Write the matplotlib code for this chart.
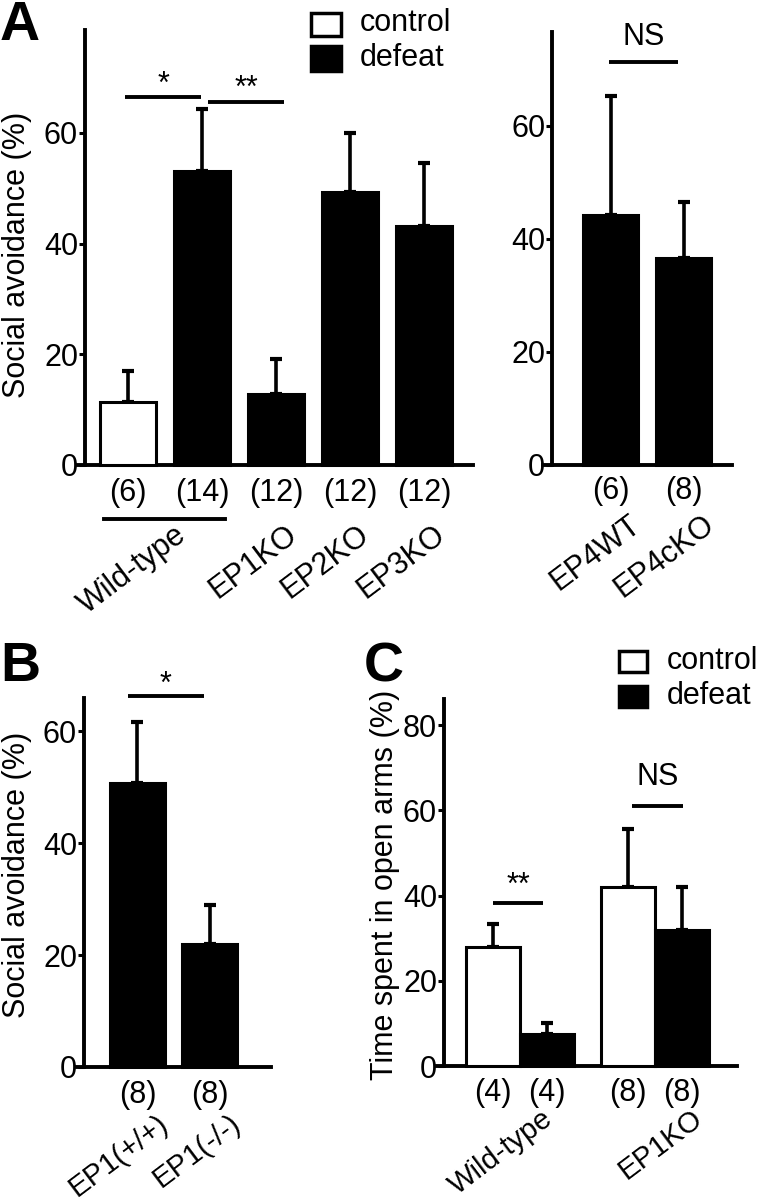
import numpy as np
import matplotlib
matplotlib.use("Agg")
import matplotlib.pyplot as plt
from matplotlib.patches import Rectangle

plt.rcParams['font.family'] = ['Liberation Sans', 'DejaVu Sans']

# ---- data ----
a_groups = ["Wild-type", "EP1KO", "EP2KO", "EP3KO"]
a_means = [11.3, 53.2, 12.8, 49.4, 43.2]
a_sem = [5.6, 11.2, 6.4, 10.5, 11.4]
a_fill = ["white", "black", "black", "black", "black"]
a_n = ["(6)", "(14)", "(12)", "(12)", "(12)"]

a4_groups = ["EP4WT", "EP4cKO"]
a4_means = [44.3, 36.7]
a4_sem = [20.9, 9.9]
a4_n = ["(6)", "(8)"]

b_groups = ["EP1(+/+)", "EP1(-/-)"]
b_means = [50.8, 22.0]
b_sem = [10.9, 7.0]
b_n = ["(8)", "(8)"]

c_groups = ["Wild-type", "EP1KO"]
c_control = [28.0, 42.0]
c_control_sem = [5.4, 13.6]
c_defeat = [7.4, 31.9]
c_defeat_sem = [2.7, 10.2]
c_n = ["(4)", "(4)", "(8)", "(8)"]

W, H = 758, 1200
FS = 22
LW = 2.8
ROT = 37

fig = plt.figure(figsize=(W / 100, H / 100), dpi=100)


def px_axes(left, right, top, bottom):
    return fig.add_axes([left / W, 1 - bottom / H, (right - left) / W, (bottom - top) / H])


def style_axes(ax, xlim, spine_x, ytop, yticks):
    ax.set_xlim(*xlim)
    ax.set_ylim(0, ytop)
    for s in ['top', 'right']:
        ax.spines[s].set_visible(False)
    ax.spines['left'].set_position(('data', spine_x))
    ax.spines['left'].set_linewidth(LW)
    ax.spines['bottom'].set_linewidth(LW)
    ax.set_xticks([])
    ax.set_yticks(yticks)
    ax.tick_params(axis='y', labelsize=FS, length=4, width=2.2, pad=1)
    ax.patch.set_visible(False)


def draw_bars(ax, pos, vals, errs, fills, width):
    ax.bar(pos, vals, width=width, color=fills, edgecolor='black', linewidth=2.2,
           zorder=3, clip_on=False)
    ax.errorbar(pos, vals, yerr=[np.zeros(len(vals)), errs], fmt='none', ecolor='black',
                elinewidth=2.6, capsize=4, capthick=3, zorder=2, clip_on=False)


def sig(ax, x0, x1, y, text, ty):
    ax.plot([x0, x1], [y, y], color='black', lw=LW, solid_capstyle='butt', clip_on=False)
    ax.text((x0 + x1) / 2, ty, text, ha='center', va='center', fontsize=FS, clip_on=False)


def under_labels(ax, pos, labels, y):
    for p, t in zip(pos, labels):
        ax.text(p, y, t, ha='center', va='center', fontsize=FS, clip_on=False)


def rot_labels(ax, pos, labels, y, size=FS):
    for p, t in zip(pos, labels):
        ax.text(p, y, t, ha='right', va='top', rotation=ROT, fontsize=size, clip_on=False)


# ---- Panel A, left ----
ax = px_axes(78, 473, 30, 465)
style_axes(ax, (-0.676, 4.662), -0.581, 78.6, [0, 20, 40, 60])
xa = np.arange(len(a_means))
draw_bars(ax, xa, a_means, a_sem, a_fill, 0.745)
sig(ax, -0.04, 0.99, 66.5, "*", 68.7)
sig(ax, 1.08, 2.11, 65.6, "**", 68.0)
under_labels(ax, xa, a_n, -5.0)
ax.plot([-0.32, 1.31], [-9.8, -9.8], color='black', lw=LW, clip_on=False)
rot_labels(ax, [0.87, 2.37, 3.33, 4.37], a_groups, -9.9)

# ---- Panel A, right ----
ax = px_axes(543, 732, 32, 465)
style_axes(ax, (-0.925, 1.664), -0.80, 76.6, [0, 20, 40, 60])
xb = np.arange(len(a4_means))
draw_bars(ax, xb, a4_means, a4_sem, ["black"] * 2, 0.75)
sig(ax, -0.02, 0.92, 71.3, "NS", 75.7)
under_labels(ax, xb, a4_n, -4.6)
rot_labels(ax, xb + 0.5, a4_groups, -7.8)

# ---- Panel B ----
ax = px_axes(77, 271, 698, 1067)
style_axes(ax, (-0.84, 1.854), -0.743, 65.9, [0, 20, 40, 60])
xc = np.arange(len(b_means))
draw_bars(ax, xc, b_means, b_sem, ["black"] * 2, 0.76)
sig(ax, -0.13, 0.92, 66.2, "*", 68.2)
under_labels(ax, xc, b_n, -5.0)
rot_labels(ax, xc + 0.5, b_groups, -7.6, size=21)

# ---- Panel C ----
ax = px_axes(437, 737, 699, 1066)
style_axes(ax, (-1.037, 4.519), -0.907, 86.1, [0, 20, 40, 60, 80])
gpos = np.array([0.0, 2.5])
draw_bars(ax, gpos, c_control, c_control_sem, ["white"] * 2, 0.99)
draw_bars(ax, gpos + 1, c_defeat, c_defeat_sem, ["black"] * 2, 0.99)
sig(ax, 0.0, 0.93, 38.3, "**", 42.2)
sig(ax, 2.57, 3.52, 61.0, "NS", 67.8)
under_labels(ax, np.sort(np.concatenate([gpos, gpos + 1])), c_n, -6.3)
rot_labels(ax, [1.2, 3.97], c_groups, -9.0, size=21)

# ---- legends ----
def legend_box(x, y, w, h, fill):
    fig.patches.append(Rectangle((x / W, 1 - (y + h) / H), w / W, h / H, facecolor=fill,
                                 edgecolor='black', linewidth=2.5, transform=fig.transFigure))


legend_box(311, 13, 30, 23, 'white')
legend_box(311, 46, 30, 25, 'black')
fig.text(360 / W, 1 - 23 / H, "control", fontsize=FS, va='center', ha='left')
fig.text(360 / W, 1 - 58 / H, "defeat", fontsize=FS, va='center', ha='left')

legend_box(619, 651, 28, 21, 'white')
legend_box(619, 686, 28, 21, 'black')
fig.text(667 / W, 1 - 661 / H, "control", fontsize=FS, va='center', ha='left')
fig.text(667 / W, 1 - 696 / H, "defeat", fontsize=FS, va='center', ha='left')

# ---- axis titles and panel letters ----
fig.text(17 / W, 1 - 255 / H, "Social avoidance (%)", rotation=90, fontsize=FS,
         ha='center', va='center')
fig.text(17 / W, 1 - 875 / H, "Social avoidance (%)", rotation=90, fontsize=FS,
         ha='center', va='center')
fig.text(385 / W, 1 - 885 / H, "Time spent in open arms (%)", rotation=90, fontsize=FS,
         ha='center', va='center')

fig.text(0, 1 - 0 / H, "A", fontsize=40, fontweight='bold', ha='left', va='top')
fig.text(0, 1 - 641 / H, "B", fontsize=40, fontweight='bold', ha='left', va='top')
fig.text(364 / W, 1 - 641 / H, "C", fontsize=40, fontweight='bold', ha='left', va='top')

fig.savefig("out.png", dpi=100)
